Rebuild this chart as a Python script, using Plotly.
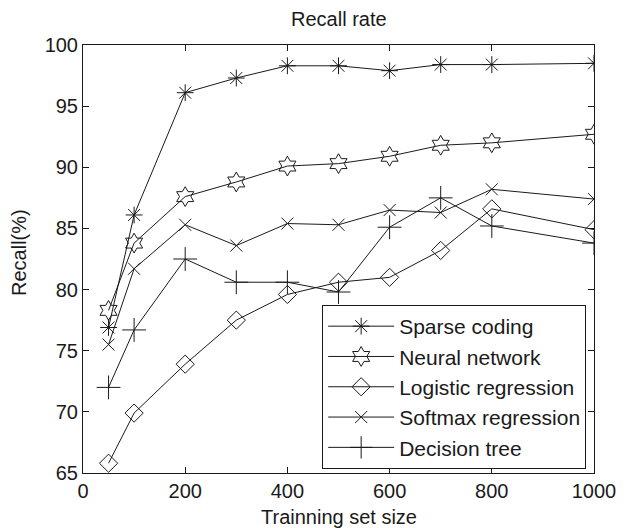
import plotly.graph_objects as go

sizes = [50, 100, 200, 300, 400, 500, 600, 700, 800, 1000]
sparse_coding = [76.9, 86.1, 96.1, 97.3, 98.3, 98.3, 97.9, 98.4, 98.4, 98.5]
neural_network = [78.3, 83.8, 87.6, 88.8, 90.1, 90.3, 90.9, 91.8, 92.0, 92.7]
logistic_regression = [65.8, 69.9, 73.9, 77.5, 79.6, 80.6, 81.0, 83.2, 86.6, 84.9]
softmax_regression = [75.5, 81.7, 85.3, 83.6, 85.4, 85.3, 86.5, 86.3, 88.2, 87.4]
decision_tree = [72.0, 76.7, 82.5, 80.6, 80.6, 79.8, 85.1, 87.5, 85.2, 83.8]

x_ticks = [0, 200, 400, 600, 800, 1000]
y_ticks = [65, 70, 75, 80, 85, 90, 95, 100]

series = [
    ("Sparse coding", sparse_coding, "asterisk-open", 14),
    ("Neural network", neural_network, "hexagram-open", 15),
    ("Logistic regression", logistic_regression, "diamond-open", 14),
    ("Softmax regression", softmax_regression, "x-thin-open", 12),
    ("Decision tree", decision_tree, "cross-thin-open", 17),
]

INK = "#1a1a1a"
FONT = "Liberation Sans, Arial, Helvetica, sans-serif"

fig = go.Figure()
for i, (name, vals, sym, sz) in enumerate(series):
    fig.add_trace(go.Scatter(
        x=sizes, y=vals, name=name, mode="lines+markers",
        line=dict(color=INK, width=1),
        marker=dict(symbol=sym, size=sz, color=INK, line=dict(color=INK, width=1)),
        legendgroup=f"g{i}",
    ))

# the page body adds an 8px offset; the figure is sized to compensate
fig.update_layout(
    width=620, height=520,
    margin=dict(l=75, r=24, t=37, b=55),
    paper_bgcolor="white", plot_bgcolor="white",
    font=dict(family=FONT, size=20, color=INK),
    showlegend=True,
    legend=dict(
        x=0.468, y=0.3925, xanchor="left", yanchor="top",
        bordercolor=INK, borderwidth=1, bgcolor="white",
        font=dict(size=21, color=INK),
        itemwidth=66, tracegroupgap=0,
    ),
    xaxis=dict(
        range=[0, 1000], tickvals=x_ticks, ticks="inside", ticklen=6,
        tickcolor=INK, showline=True, linecolor=INK, linewidth=1,
        mirror="ticks", showgrid=False, zeroline=False,
        tickfont=dict(size=20), fixedrange=True,
    ),
    yaxis=dict(
        range=[65, 100], tickvals=y_ticks, ticks="inside", ticklen=6,
        tickcolor=INK, showline=True, linecolor=INK, linewidth=1,
        mirror="ticks", showgrid=False, zeroline=False,
        tickfont=dict(size=20), fixedrange=True,
    ),
    annotations=[
        dict(text="Recall rate", xref="paper", yref="paper", x=0.5, y=1,
             yshift=26, xanchor="center", yanchor="middle", showarrow=False,
             font=dict(size=20)),
        dict(text="Trainning set size", xref="paper", yref="paper", x=0.5, y=0,
             yshift=-44, xanchor="center", yanchor="middle", showarrow=False,
             font=dict(size=20)),
        dict(text="Recall(%)", xref="paper", yref="paper", x=0, y=0.5,
             xshift=-64, yshift=6, textangle=-90, xanchor="center", yanchor="middle",
             showarrow=False, font=dict(size=20)),
    ],
)

fig.write_html("out.html")
